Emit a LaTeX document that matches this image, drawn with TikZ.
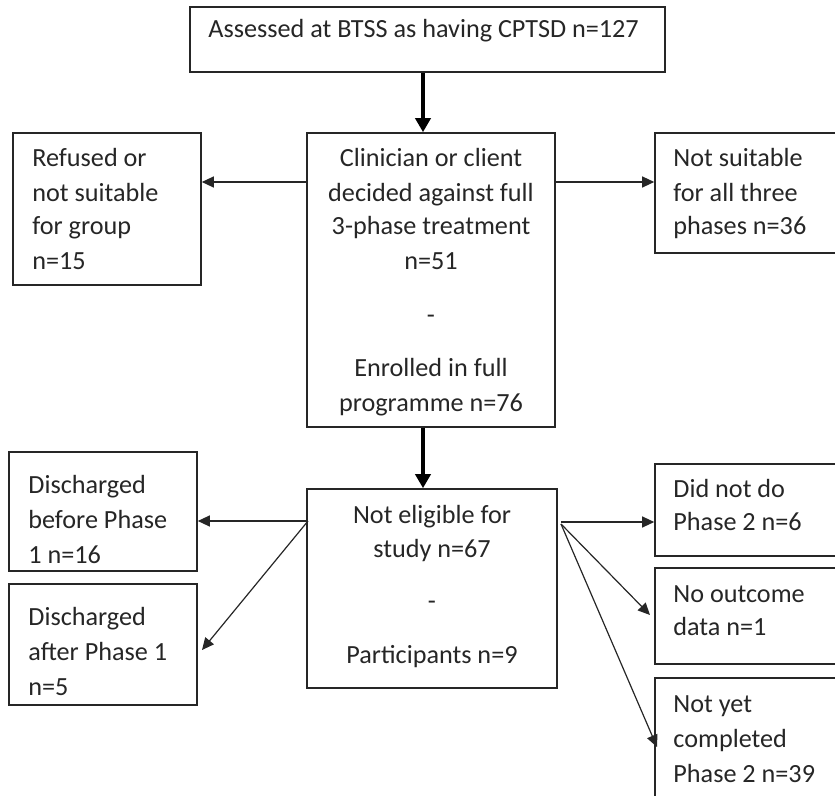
\documentclass[tikz,border=0pt]{standalone}
\usepackage{fontspec}
\setmainfont{Carlito}
\usetikzlibrary{fit,arrows.meta}
\begin{document}
\begin{tikzpicture}[x=0.5pt,y=-0.5pt,
  box/.style={draw=black!85, line width=0.8pt, inner sep=0pt, fit={#1}},
  txt/.style={inner sep=0pt, font=\fontsize{13.1}{17}\selectfont, text=black!85},
  lt/.style={txt, anchor=base west},
  ct/.style={txt, anchor=base},
  thinarr/.style={-{Triangle[length=6pt,width=5.5pt]}, line width=0.6pt, draw=black!85},
  thickarr/.style={-{Triangle[length=7pt,width=7.5pt]}, line width=2pt}]
\useasboundingbox (0,0) rectangle (835,796);
\clip (0,0) rectangle (835,796);
% boxes
\node[box={(190,7) (665,72)}] (top) {};
\node[box={(307,133) (555,427)}] (m1) {};
\node[box={(307,489) (557,688)}] (m2) {};
\node[box={(13,133) (201,285)}] (l1) {};
\node[box={(655,133) (850,253)}] (r1) {};
\node[box={(9,452) (197,571)}] (l2) {};
\node[box={(9,584) (197,705)}] (l3) {};
\node[box={(655,464) (850,556)}] (r2) {};
\node[box={(655,568) (850,664)}] (r3) {};
\node[box={(655,678) (850,830)}] (r4) {};
% texts
\node[lt] (tt) at (208,38) {Assessed at BTSS as having CPTSD n=127};
\node[ct] (m1a) at (431,167) {Clinician or client};
\node[ct] (m1b) at (431,202) {decided against full};
\node[ct] (m1c) at (431,235) {3-phase treatment};
\node[ct] (m1d) at (431,270) {n=51};
\node[ct] (m1e) at (431,324) {-};
\node[ct] (m1f) at (431,377) {Enrolled in full};
\node[ct] (m1g) at (431,412) {programme n=76};
\node[ct] (m2a) at (432,523) {Not eligible for};
\node[ct] (m2b) at (432,557) {study n=67};
\node[ct] (m2c) at (432,609) {-};
\node[ct] (m2d) at (432,663) {Participants n=9};
\node[lt] (l1a) at (32,167) {Refused or};
\node[lt] (l1b) at (32,202) {not suitable};
\node[lt] (l1c) at (32,235) {for group};
\node[lt] (l1d) at (32,270) {n=15};
\node[lt] (r1a) at (673,167) {Not suitable};
\node[lt] (r1b) at (673,202) {for all three};
\node[lt] (r1c) at (673,235) {phases n=36};
\node[lt] (l2a) at (28,493) {Discharged};
\node[lt] (l2b) at (28,528) {before Phase};
\node[lt] (l2c) at (28,563) {1 n=16};
\node[lt] (l3a) at (28,625) {Discharged};
\node[lt] (l3b) at (28,660) {after Phase 1};
\node[lt] (l3c) at (28,695) {n=5};
\node[lt] (r2a) at (673,497) {Did not do};
\node[lt] (r2b) at (673,530) {Phase 2 n=6};
\node[lt] (r3a) at (673,602) {No outcome};
\node[lt] (r3b) at (673,635) {data n=1};
\node[lt] (r4a) at (673,712) {Not yet};
\node[lt] (r4b) at (673,747) {completed};
\node[lt] (r4c) at (673,782) {Phase 2 n=39};
% helper coordinates
\coordinate (cx) at (423,0);
\coordinate (y1) at (0,182);
\coordinate (y2) at (0,521);
\coordinate (ls) at (308,521);
\coordinate (rs) at (561,524);
\coordinate (d1) at (202,650);
\coordinate (d2) at (650,615);
\coordinate (d3) at (657,747);
% connectors
\draw[thickarr] (cx |- top.south) -- (cx |- m1.north);
\draw[thickarr] (cx |- m1.south) -- (cx |- m2.north);
\draw[thinarr] (m1.west |- y1) -- (l1.east |- y1);
\draw[thinarr] (m1.east |- y1) -- (r1.west |- y1);
\draw[thinarr] (ls) -- (l2.east |- y2);
\draw[thinarr] (ls) -- (d1);
\draw[thinarr] (rs |- 0,522) -- (r2.west |- 0,522);
\draw[thinarr] (rs) -- (d2);
\draw[thinarr] (rs) -- (d3);
\end{tikzpicture}
\end{document}
